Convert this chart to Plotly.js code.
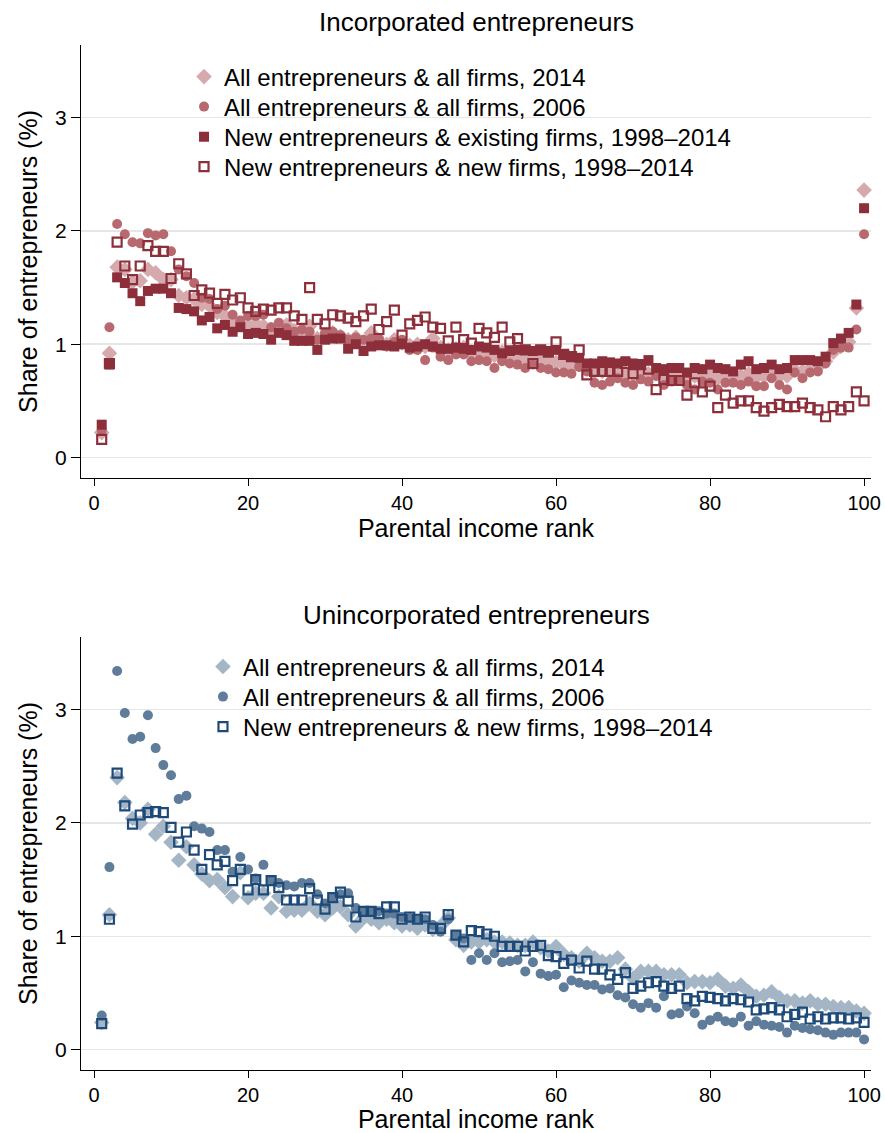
<!DOCTYPE html>
<html>
<head>
<meta charset="utf-8">
<script src="https://cdn.plot.ly/plotly-3.0.1.min.js"></script>
<style>
  html, body { margin: 0; padding: 0; background: #fff; }
  #chart { width: 885px; height: 1133px; }
</style>
</head>
<body>
<div id="chart"></div>
<script>
// parental income rank, 1..100
const ranks = [
  1, 2, 3, 4, 5, 6, 7, 8, 9, 10, 11, 12, 13, 14, 15, 16, 17, 18, 19, 20,
  21, 22, 23, 24, 25, 26, 27, 28, 29, 30, 31, 32, 33, 34, 35, 36, 37, 38, 39, 40,
  41, 42, 43, 44, 45, 46, 47, 48, 49, 50, 51, 52, 53, 54, 55, 56, 57, 58, 59, 60,
  61, 62, 63, 64, 65, 66, 67, 68, 69, 70, 71, 72, 73, 74, 75, 76, 77, 78, 79, 80,
  81, 82, 83, 84, 85, 86, 87, 88, 89, 90, 91, 92, 93, 94, 95, 96, 97, 98, 99, 100
];

// Incorporated entrepreneurs
const incAll2014 = [
  0.22, 0.92, 1.68, 1.66, 1.55, 1.56, 1.66, 1.63, 1.57, 1.57,
  1.43, 1.41, 1.40, 1.35, 1.34, 1.28, 1.25, 1.19, 1.18, 1.16,
  1.18, 1.16, 1.13, 1.14, 1.17, 1.12, 1.10, 1.16, 1.05, 1.08,
  1.10, 1.07, 1.04, 1.06, 1.02, 1.10, 1.03, 1.00, 1.04, 1.01,
  0.99, 1.00, 0.98, 1.05, 0.97, 0.95, 0.96, 0.97, 0.93, 0.94,
  0.92, 0.90, 0.93, 0.89, 0.88, 0.88, 0.87, 0.86, 0.84, 0.84,
  0.82, 0.80, 0.82, 0.80, 0.76, 0.76, 0.78, 0.76, 0.75, 0.73,
  0.76, 0.74, 0.74, 0.72, 0.74, 0.74, 0.70, 0.72, 0.72, 0.73,
  0.70, 0.72, 0.71, 0.72, 0.74, 0.71, 0.72, 0.73, 0.72, 0.72,
  0.77, 0.76, 0.78, 0.80, 0.85, 0.93, 0.98, 1.02, 1.32, 2.36
];
const incAll2006 = [
  0.24, 1.15, 2.06, 1.97, 1.90, 1.89, 1.98, 1.96, 1.97, 1.82,
  1.66, 1.60, 1.54, 1.41, 1.40, 1.31, 1.34, 1.26, 1.21, 1.25,
  1.25, 1.26, 1.15, 1.19, 1.14, 1.11, 1.13, 1.11, 1.04, 1.10,
  1.11, 1.08, 1.04, 1.06, 1.04, 1.05, 1.05, 0.98, 1.02, 1.04,
  0.95, 0.95, 0.86, 0.97, 0.89, 0.86, 0.91, 0.91, 0.85, 0.86,
  0.85, 0.79, 0.85, 0.83, 0.82, 0.79, 0.82, 0.79, 0.78, 0.75,
  0.75, 0.74, 0.80, 0.76, 0.66, 0.64, 0.67, 0.70, 0.66, 0.64,
  0.69, 0.67, 0.72, 0.64, 0.67, 0.68, 0.64, 0.60, 0.67, 0.66,
  0.60, 0.66, 0.66, 0.64, 0.67, 0.63, 0.63, 0.70, 0.64, 0.60,
  0.75, 0.70, 0.75, 0.76, 0.83, 0.95, 0.97, 0.97, 1.13, 1.97
];
const incNewExisting = [
  0.29, 0.82, 1.59, 1.54, 1.45, 1.38, 1.47, 1.49, 1.49, 1.45,
  1.32, 1.31, 1.29, 1.21, 1.24, 1.14, 1.17, 1.11, 1.15, 1.09,
  1.10, 1.09, 1.04, 1.10, 1.08, 1.03, 1.03, 1.03, 0.95, 1.04,
  1.05, 1.05, 0.96, 1.00, 0.94, 0.98, 0.99, 0.99, 0.98, 1.00,
  0.97, 0.98, 1.00, 0.98, 0.96, 0.96, 0.97, 0.96, 0.95, 0.98,
  0.97, 0.95, 0.92, 0.94, 0.95, 0.95, 0.94, 0.95, 0.94, 0.95,
  0.91, 0.89, 0.88, 0.83, 0.83, 0.85, 0.84, 0.83, 0.85, 0.83,
  0.82, 0.86, 0.79, 0.78, 0.79, 0.79, 0.75, 0.79, 0.78, 0.82,
  0.79, 0.78, 0.76, 0.82, 0.85, 0.78, 0.79, 0.82, 0.78, 0.79,
  0.86, 0.86, 0.86, 0.85, 0.89, 1.01, 1.05, 1.10, 1.35, 2.20
];
const incNewNew = [
  0.16, 0.83, 1.90, 1.69, 1.57, 1.69, 1.87, 1.82, 1.82, 1.58,
  1.71, 1.62, 1.43, 1.48, 1.45, 1.36, 1.44, 1.39, 1.41, 1.32,
  1.29, 1.31, 1.30, 1.32, 1.32, 1.25, 1.22, 1.50, 1.22, 1.18,
  1.26, 1.25, 1.23, 1.20, 1.25, 1.31, 1.13, 1.20, 1.30, 1.08,
  1.18, 1.21, 1.24, 1.15, 1.14, 1.03, 1.15, 1.04, 1.01, 1.14,
  1.10, 1.06, 1.15, 1.02, 1.05, 0.95, 0.83, 0.95, 0.93, 1.02,
  0.91, 0.89, 0.95, 0.73, 0.76, 0.76, 0.76, 0.76, 0.83, 0.74,
  0.82, 0.78, 0.60, 0.69, 0.68, 0.68, 0.55, 0.66, 0.58, 0.63,
  0.44, 0.55, 0.48, 0.50, 0.50, 0.44, 0.41, 0.44, 0.47, 0.45,
  0.45, 0.48, 0.44, 0.42, 0.36, 0.45, 0.42, 0.45, 0.58, 0.50
];

// Unincorporated entrepreneurs
const unAll2014 = [
  0.24, 1.19, 2.40, 2.18, 2.04, 2.00, 2.12, 1.90, 1.97, 1.83,
  1.67, 1.79, 1.63, 1.55, 1.49, 1.50, 1.43, 1.35, 1.56, 1.34,
  1.38, 1.38, 1.25, 1.35, 1.22, 1.23, 1.23, 1.29, 1.22, 1.19,
  1.25, 1.26, 1.19, 1.09, 1.16, 1.15, 1.12, 1.15, 1.12, 1.09,
  1.10, 1.07, 1.10, 1.06, 1.09, 1.16, 0.97, 0.92, 0.95, 0.95,
  0.97, 0.95, 0.95, 0.94, 0.92, 0.92, 0.95, 0.90, 0.87, 0.91,
  0.84, 0.81, 0.78, 0.85, 0.81, 0.78, 0.78, 0.81, 0.71, 0.63,
  0.69, 0.69, 0.69, 0.66, 0.66, 0.66, 0.59, 0.60, 0.60, 0.59,
  0.62, 0.56, 0.54, 0.57, 0.51, 0.47, 0.48, 0.51, 0.46, 0.43,
  0.43, 0.41, 0.43, 0.40, 0.40, 0.38, 0.37, 0.37, 0.34, 0.32
];
const unAll2006 = [
  0.30, 1.61, 3.34, 2.97, 2.74, 2.76, 2.95, 2.66, 2.51, 2.42,
  2.21, 2.24, 1.97, 1.95, 1.92, 1.76, 1.76, 1.57, 1.70, 1.59,
  1.51, 1.63, 1.49, 1.47, 1.45, 1.44, 1.47, 1.47, 1.37, 1.29,
  1.34, 1.37, 1.38, 1.25, 1.22, 1.22, 1.22, 1.20, 1.20, 1.17,
  1.16, 1.15, 1.15, 1.10, 1.04, 1.15, 1.01, 0.98, 0.79, 0.85,
  0.79, 0.85, 0.77, 0.78, 0.79, 0.69, 0.77, 0.67, 0.65, 0.66,
  0.55, 0.61, 0.59, 0.57, 0.57, 0.53, 0.54, 0.48, 0.46, 0.40,
  0.37, 0.41, 0.37, 0.47, 0.31, 0.32, 0.38, 0.32, 0.22, 0.26,
  0.29, 0.25, 0.24, 0.29, 0.21, 0.25, 0.22, 0.21, 0.20, 0.15,
  0.21, 0.19, 0.18, 0.17, 0.15, 0.13, 0.15, 0.15, 0.15, 0.09
];
const unNewNew = [
  0.23, 1.15, 2.44, 2.15, 1.99, 2.07, 2.09, 2.10, 2.09, 1.96,
  1.83, 1.92, 1.76, 1.59, 1.72, 1.63, 1.66, 1.49, 1.59, 1.41,
  1.50, 1.41, 1.49, 1.43, 1.32, 1.32, 1.32, 1.42, 1.32, 1.24,
  1.34, 1.39, 1.31, 1.17, 1.22, 1.22, 1.20, 1.26, 1.26, 1.15,
  1.17, 1.15, 1.17, 1.07, 1.07, 1.19, 1.01, 0.95, 1.05, 1.04,
  1.02, 1.00, 0.91, 0.91, 0.91, 0.87, 0.91, 0.92, 0.83, 0.82,
  0.76, 0.79, 0.72, 0.78, 0.71, 0.71, 0.66, 0.62, 0.68, 0.54,
  0.56, 0.59, 0.60, 0.56, 0.54, 0.56, 0.45, 0.43, 0.47, 0.46,
  0.45, 0.43, 0.45, 0.44, 0.42, 0.35, 0.36, 0.37, 0.35, 0.29,
  0.31, 0.33, 0.27, 0.29, 0.27, 0.28, 0.28, 0.27, 0.28, 0.24
];

const xTicks = [0, 20, 40, 60, 80, 100];
const yTicks = [0, 1, 2, 3];

function series(y, name, symbol, color, size, xa, ya, legend) {
  const m = { symbol: symbol, color: color, size: size, line: { width: 0 } };
  if (symbol === 'square-open') m.line = { width: 2.2, color: color };
  return {
    type: 'scatter', mode: 'markers', x: ranks, y: y, name: name,
    xaxis: xa, yaxis: ya, legend: legend, marker: m, cliponaxis: false
  };
}

const data = [
  series(incAll2014, 'All entrepreneurs & all firms, 2014', 'diamond', '#d6aaad', 12, 'x', 'y', 'legend'),
  series(incAll2006, 'All entrepreneurs & all firms, 2006', 'circle', '#b8696f', 10, 'x', 'y', 'legend2'),
  series(incNewExisting, 'New entrepreneurs & existing firms, 1998\u20132014', 'square', '#8c2f3b', 10, 'x', 'y', 'legend3'),
  series(incNewNew, 'New entrepreneurs & new firms, 1998\u20132014', 'square-open', '#8c2f3b', 9, 'x', 'y', 'legend4'),
  series(unAll2014, 'All entrepreneurs & all firms, 2014', 'diamond', '#a4b5c6', 12, 'x2', 'y2', 'legend5'),
  series(unAll2006, 'All entrepreneurs & all firms, 2006', 'circle', '#5f7d9a', 10, 'x2', 'y2', 'legend6'),
  series(unNewNew, 'New entrepreneurs & new firms, 1998\u20132014', 'square-open', '#1d4a78', 9, 'x2', 'y2', 'legend7')
];

function xAxis(anchor) {
  return {
    anchor: anchor, range: [-1.69, 100.9], tickvals: xTicks,
    showline: true, linecolor: '#000', linewidth: 1,
    ticks: 'outside', ticklen: 7, tickcolor: '#000',
    showgrid: false, zeroline: false, tickfont: { size: 20 },
    title: { text: 'Parental income rank', font: { size: 25 }, standoff: 0 }
  };
}
function yAxis(anchor, domain) {
  return {
    anchor: anchor, domain: domain, range: [-0.18, 3.64], tickvals: yTicks,
    showline: true, linecolor: '#000', linewidth: 1,
    ticks: 'outside', ticklen: 9, tickcolor: '#000',
    showgrid: true, gridcolor: '#e6e6e6', gridwidth: 1.5, zeroline: false,
    tickfont: { size: 21 },
    title: { text: 'Share of entrepreneurs (%)', font: { size: 25 }, standoff: 10 }
  };
}

// one legend per row so the row spacing matches the original
const legendFont = { size: 24, color: '#000' };
function row(x, y) {
  return { x: x, y: y, xanchor: 'left', yanchor: 'middle', font: legendFont,
           bgcolor: 'rgba(0,0,0,0)', borderwidth: 0 };
}

const layout = {
  width: 885, height: 1133,
  margin: { l: 81, r: 14, t: 45, b: 63 },
  paper_bgcolor: '#fff', plot_bgcolor: '#fff',
  font: { family: 'Liberation Sans, Arial, sans-serif', color: '#000' },
  showlegend: true,
  xaxis: xAxis('y'),
  yaxis: yAxis('x', [0.5776, 1]),
  xaxis2: xAxis('y2'),
  yaxis2: yAxis('x2', [0, 0.4224]),
  legend: row(0.1304, 0.9688),
  legend2: row(0.1304, 0.9395),
  legend3: row(0.1304, 0.9102),
  legend4: row(0.1304, 0.8810),
  legend5: row(0.1544, 0.3932),
  legend6: row(0.1544, 0.3639),
  legend7: row(0.1544, 0.3346),
  annotations: [
    { text: 'Incorporated entrepreneurs', xref: 'paper', yref: 'paper', x: 0.5, y: 1.0224,
      yanchor: 'middle', showarrow: false, font: { size: 26 } },
    { text: 'Unincorporated entrepreneurs', xref: 'paper', yref: 'paper', x: 0.5, y: 0.4439,
      yanchor: 'middle', showarrow: false, font: { size: 26 } }
  ]
};

Plotly.newPlot('chart', data, layout, { displayModeBar: false, staticPlot: true });
</script>
</body>
</html>
